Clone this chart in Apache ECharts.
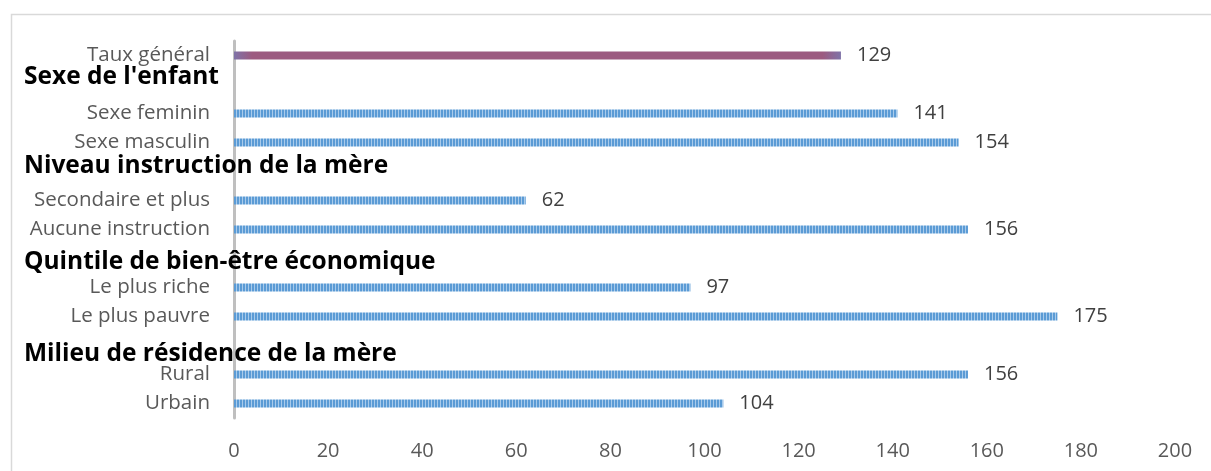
<!DOCTYPE html>
<html>
<head>
<meta charset="utf-8">
<script src="https://cdn.jsdelivr.net/npm/echarts@6/dist/echarts.min.js"></script>
<style>
  html, body { margin: 0; padding: 0; background: #fff; }
  #chart { width: 1211px; height: 471px; }
</style>
</head>
<body>
<div id="chart"></div>
<script>
// rows, top to bottom ('' = slot used by a group header)
var categories = ['Taux général', '', 'Sexe feminin', 'Sexe masculin', '', 'Secondaire et plus', 'Aucune instruction',
  '', 'Le plus riche', 'Le plus pauvre', '', 'Rural', 'Urbain'];
var headers = ['', 'Sexe de l\'enfant', '', '', 'Niveau instruction de la mère', '', '',
  'Quintile de bien-être économique', '', '', 'Milieu de résidence de la mère', '', ''];
var values = [129, null, 141, 154, null, 62, 156, null, 97, 175, null, 156, 104];
var xTicks = [0, 20, 40, 60, 80, 100, 120, 140, 160, 180, 200];

// small vertical nudges for the header texts (they sit a bit off the slot centre)
var headerShift = { 1: -7, 4: -5, 7: 4, 10: 9 };

// striped blue fill like the original
var stripe = document.createElement('canvas');
stripe.width = 3; stripe.height = 4;
var sctx = stripe.getContext('2d');
sctx.fillStyle = '#5B9BD5'; sctx.fillRect(0, 0, 3, 4);
sctx.fillStyle = '#A9CBEB'; sctx.fillRect(2, 0, 1, 4);

var generalColor = new echarts.graphic.LinearGradient(0, 0, 1, 0, [
  { offset: 0, color: '#7F73A8' },
  { offset: 0.03, color: '#9C5A80' },
  { offset: 0.97, color: '#9C5A80' },
  { offset: 1, color: '#7F73A8' }
]);

var barData = values.map(function (v, i) {
  if (i === 0) return { value: v, itemStyle: { color: generalColor } };
  return { value: v, itemStyle: { color: { image: stripe, repeat: 'repeat' } } };
});

var richHead = {};
Object.keys(headerShift).forEach(function (k) {
  var d = headerShift[k];
  richHead['h' + k] = {
    fontFamily: 'Open Sans', fontWeight: 'bold', fontSize: 24.5, color: '#000',
    padding: d > 0 ? [2 * d, 0, 0, 0] : [0, 0, -2 * d, 0]
  };
});

var chart = echarts.init(document.getElementById('chart'));
chart.setOption({
  animation: false,
  backgroundColor: '#fff',
  graphic: [{
    type: 'rect', left: 9, top: 12, silent: true,
    shape: { width: 1215, height: 475 },
    style: { fill: 'none', stroke: '#D9D9D9', lineWidth: 1.5 }
  }],
  grid: { left: 234, right: 36, top: 41, bottom: 53, containLabel: false },
  xAxis: {
    type: 'value', min: 0, max: 200, interval: 20,
    axisLine: { show: false }, axisTick: { show: false }, splitLine: { show: false },
    axisLabel: {
      margin: 23, color: '#595959', fontFamily: 'Open Sans', fontSize: 20,
      formatter: function (v) { return xTicks.indexOf(v) >= 0 ? String(v) : ''; }
    }
  },
  yAxis: [{
    type: 'category', data: categories, inverse: true, position: 'left',
    axisLine: { show: true, lineStyle: { color: '#BFBFBF', width: 3 } },
    axisTick: { show: false },
    axisLabel: { margin: 24, color: '#595959', fontFamily: 'Open Sans', fontSize: 20.5 }
  }, {
    type: 'category', data: headers, inverse: true, position: 'left',
    axisLine: { show: false }, axisTick: { show: false },
    axisLabel: {
      margin: 210, align: 'left', interval: 0,
      formatter: function (v, i) { return v ? '{h' + i + '|' + v + '}' : ''; },
      rich: richHead
    }
  }],
  series: [{
    type: 'bar', data: barData, barWidth: 8, yAxisIndex: 0,
    label: {
      show: true, position: 'right', distance: 16,
      color: '#404040', fontFamily: 'Open Sans', fontSize: 20
    }
  }]
});
</script>
</body>
</html>
